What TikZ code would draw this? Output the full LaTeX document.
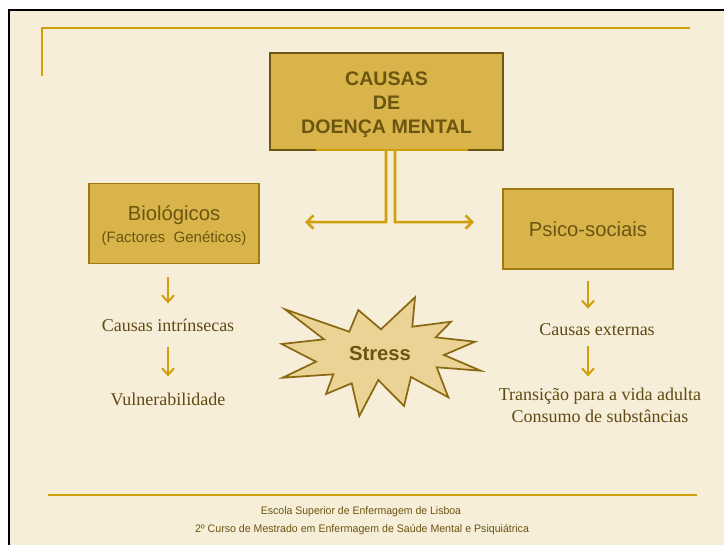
\documentclass[tikz,border=0pt]{standalone}
\usepackage{fontspec}
\setmainfont{Liberation Serif}
\setsansfont{Liberation Sans}
\usetikzlibrary{arrows.meta,calc}
\definecolor{cream}{HTML}{F7EED9}
\definecolor{boxfill}{HTML}{D9B44A}
\definecolor{boxdraw}{HTML}{6E5512}
\definecolor{sidedraw}{HTML}{A07A10}
\definecolor{gold}{HTML}{D19E0E}
\definecolor{txt}{HTML}{6B5510}
\definecolor{sertxt}{HTML}{5E4A12}
\definecolor{starfill}{HTML}{EAD394}
\definecolor{stardraw}{HTML}{8B6914}
\begin{document}
\begin{tikzpicture}[x=0.75pt,y=-0.75pt,
  mainbox/.style={draw=boxdraw,fill=boxfill,line width=1.6pt,minimum width=233*0.75pt,minimum height=97*0.75pt,inner sep=0pt,align=center,text=txt,font=\sffamily\bfseries\fontsize{14.7}{18}\selectfont},
  sidebox/.style={draw=sidedraw,fill=boxfill,line width=1.4pt,minimum width=170*0.75pt,minimum height=80*0.75pt,inner sep=0pt,align=center,text=txt,font=\sffamily\fontsize{15.2}{17}\selectfont},
  sertext/.style={inner sep=0pt,align=center,text=sertxt,font=\fontsize{13.5}{16.5}\selectfont},
  conn/.style={draw=gold,line width=1.9pt},
  harrow/.style={conn,-{Straight Barb[length=5pt,width=10pt,line width=1.9pt]}},
  varrow/.style={conn,line width=1.5pt,-{Straight Barb[length=5pt,width=9pt,line width=1.5pt]}},
  foot/.style={inner sep=0pt,text=txt,font=\sffamily\fontsize{8.2}{11}\selectfont}
]
\useasboundingbox (0,0) rectangle (724,544);
\fill[white] (0,0) rectangle (724,544);
\filldraw[fill=cream,draw=black,line width=1.8pt] (9,10) rectangle (740,560);
% decorative frame lines
\draw[gold,line width=1.2pt] (42,76) -- (42,28) -- (690,28);
\draw[gold,line width=1.2pt] (48,495) -- (697,495);

% main box
\node[mainbox] (main) at (386.5,101.5) {\raisebox{-2.5pt}[\height][\depth]{\begin{tabular}{@{}c@{}}CAUSAS\\DE\\DOENÇA MENTAL\end{tabular}}};
\draw[gold,line width=1.6pt] (316,150) -- (468,150);

% side boxes
\node[sidebox] (bio) at (174,223.5) {\raisebox{-2.5pt}[\height][\depth]{\begin{tabular}{@{}c@{}}Biológicos\\[-1pt]{\fontsize{11.3}{13}\selectfont(Factores\ \ Genéticos)}\end{tabular}}};
\node[sidebox] (psi) at (588,229) {Psico-sociais};

% connectors from main box
\coordinate (lend) at (305,222);
\coordinate (rend) at (474,222);
\draw[harrow] ($(main.south)+(-0.5,0)$) -- ($(main.south)+(-0.5,71)$) -- (lend);
\draw[harrow] ($(main.south)+(8.5,0)$) -- ($(main.south)+(8.5,71)$) -- (rend);

% left column
\node[sertext] (intr) at (168,325) {Causas intrínsecas};
\node[sertext] (vuln) at (168,399) {Vulnerabilidade};
\draw[varrow,shorten <=13*0.75pt,shorten >=15*0.75pt] (intr.north |- bio.south) -- (intr.north);
\draw[varrow,shorten <=15*0.75pt,shorten >=16*0.75pt] (intr.south -| vuln.north) -- (vuln.north);

% right column
\node[sertext] (ext) at (597,330) {Causas externas};
\node[sertext] (trans) at (600,405) {Transição para a vida adulta\\Consumo de substâncias};
\draw[varrow,shorten <=11*0.75pt,shorten >=15*0.75pt] (psi.south) -- (psi.south |- ext.north);
\draw[varrow,shorten <=10*0.75pt,shorten >=11*0.75pt] (psi.south |- ext.south) -- (psi.south |- trans.north);

% stress star
\filldraw[fill=starfill,draw=stardraw,line width=1.3pt,line join=miter]
  (285,309.3) -- (349.3,331.7) -- (358.3,310) -- (381,329.3) -- (415,297.3) -- (412.3,326.7)
  -- (451,321.7) -- (435.7,337.3) -- (475,341.7) -- (444,355) -- (480.7,370.7) -- (436.7,367.3)
  -- (448.3,397.3) -- (411,377) -- (404,406) -- (378.3,380) -- (359.3,416) -- (351.7,383.3)
  -- (326,394) -- (333.3,374.3) -- (282.7,377.7) -- (316,361.7) -- (281.7,344) -- (324,339.3) -- cycle;
\node[inner sep=0pt,text=txt,font=\sffamily\bfseries\fontsize{15.2}{18}\selectfont] (stress) at (380,354) {Stress};

% footer
\node[foot] (f1) at (361,512) {\scalebox{0.96}[1]{Escola Superior de Enfermagem de Lisboa}};
\node[foot] (f2) at (362,530) {\scalebox{0.97}[1]{2º Curso de Mestrado em Enfermagem de Saúde Mental e Psiquiátrica}};
\end{tikzpicture}
\end{document}
